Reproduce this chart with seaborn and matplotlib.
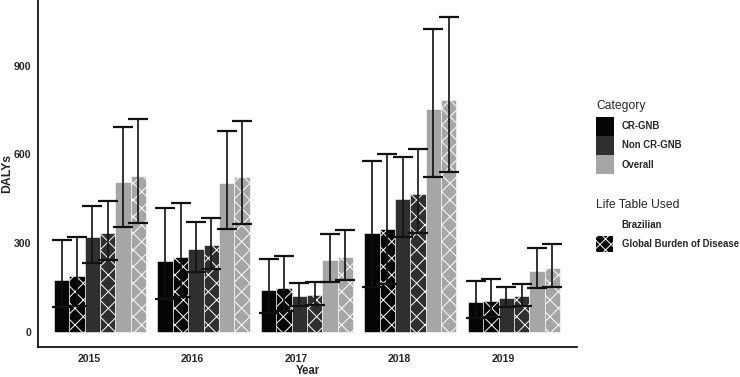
import numpy as np
import pandas as pd
import matplotlib
matplotlib.use("Agg")
import matplotlib.pyplot as plt
import seaborn as sns
from matplotlib.patches import Patch, Rectangle
from matplotlib.legend_handler import HandlerPatch

sns.set_style("white")
plt.rcParams['font.family'] = ['Liberation Sans', 'DejaVu Sans']
plt.rcParams['hatch.color'] = 'white'
plt.rcParams['hatch.linewidth'] = 0.7

years = ['2015', '2016', '2017', '2018', '2019']
categories = ['CR-GNB', 'Non CR-GNB', 'Overall']
tables = ['Brazilian', 'Global Burden of Disease']

# mean DALYs
cr_braz = [175, 240, 141, 333, 99]
cr_gbd = [188, 252, 148, 346, 104]
non_braz = [321, 280, 122, 448, 115]
non_gbd = [335, 293, 124, 465, 121]
ovr_braz = [507, 502, 242, 752, 206]
ovr_gbd = [528, 522, 252, 782, 214]

# lower bounds
cr_braz_lo = [82, 110, 64, 152, 45]
cr_gbd_lo = [88, 117, 70, 160, 50]
non_braz_lo = [231, 201, 87, 319, 83]
non_gbd_lo = [242, 212, 90, 333, 87]
ovr_braz_lo = [353, 347, 168, 522, 147]
ovr_gbd_lo = [367, 364, 174, 541, 150]

# upper bounds
cr_braz_hi = [310, 417, 245, 577, 171]
cr_gbd_hi = [321, 436, 256, 602, 177]
non_braz_hi = [426, 372, 164, 592, 152]
non_gbd_hi = [443, 386, 169, 617, 160]
ovr_braz_hi = [692, 680, 330, 1025, 284]
ovr_gbd_hi = [720, 713, 345, 1066, 296]

series = [
    ('CR-GNB', 'Brazilian', cr_braz, cr_braz_lo, cr_braz_hi),
    ('CR-GNB', 'Global Burden of Disease', cr_gbd, cr_gbd_lo, cr_gbd_hi),
    ('Non CR-GNB', 'Brazilian', non_braz, non_braz_lo, non_braz_hi),
    ('Non CR-GNB', 'Global Burden of Disease', non_gbd, non_gbd_lo, non_gbd_hi),
    ('Overall', 'Brazilian', ovr_braz, ovr_braz_lo, ovr_braz_hi),
    ('Overall', 'Global Burden of Disease', ovr_gbd, ovr_gbd_lo, ovr_gbd_hi),
]

cat_colors = {'CR-GNB': '#050505', 'Non CR-GNB': '#2f2f2f', 'Overall': '#a6a6a6'}

rows = []
for cat, tab, vals, lo, hi in series:
    for y, v, l, h in zip(years, vals, lo, hi):
        rows.append(dict(Year=y, Category=cat, Table=tab, Group=f"{cat}|{tab}",
                         DALYs=v, lo=l, hi=h))
df = pd.DataFrame(rows)
group_order = [f"{c}|{t}" for c, t, *_ in series]
palette = {g: cat_colors[g.split('|')[0]] for g in group_order}

fig = plt.figure(figsize=(7.4, 3.77), dpi=100)
ax = fig.add_axes([38/740, 30/377, 539/740, 347/377])

sns.barplot(data=df, x='Year', y='DALYs', hue='Group', hue_order=group_order,
            order=years, palette=palette, width=0.89, errorbar=None,
            saturation=1, legend=False, ax=ax, zorder=2)

for cont, (cat, tab, vals, lo, hi) in zip(ax.containers, series):
    xs = []
    for bar in cont:
        bar.set_edgecolor('white')
        bar.set_linewidth(0.4)
        if tab == 'Global Burden of Disease':
            bar.set_hatch('xx')
        xs.append(bar.get_x() + bar.get_width() / 2)
    v = np.array(vals); l = np.array(lo); h = np.array(hi)
    ax.errorbar(xs, v, yerr=[v - l, h - v], fmt='none', ecolor='#111111',
                elinewidth=1.2, capsize=7.2, capthick=1.6, zorder=4)

ax.set_xticks(np.arange(len(years)) - 0.107, labels=years)
ax.set_xlim(-0.60, 4.61)
ax.set_ylim(-52, 1122)
ax.set_yticks([0, 300, 600, 900])
ax.tick_params(axis='both', length=0, labelsize=7.6, pad=5)
for t in ax.get_xticklabels() + ax.get_yticklabels():
    t.set_fontweight('bold')
ax.set_xlabel('Year', fontsize=8.3, fontweight='bold', labelpad=1)
ax.set_ylabel('DALYs', fontsize=8.8, fontweight='bold')
ax.yaxis.set_label_coords(-0.047, 0.5)
for s in ['top', 'right']:
    ax.spines[s].set_visible(False)
for s in ['left', 'bottom']:
    ax.spines[s].set_color('black')
    ax.spines[s].set_linewidth(1.2)


def small_rect(legend, orig_handle, xdescent, ydescent, width, height, fontsize):
    return Rectangle((-xdescent, -ydescent + 0.08 * height), width, 0.84 * height)


cat_handles = [Patch(facecolor=cat_colors[c], edgecolor='none') for c in categories]
leg1 = fig.legend(cat_handles, categories, title='Category', loc='upper left',
                  bbox_to_anchor=(596/740, 1 - 99.5/377), frameon=False,
                  fontsize=6.9, title_fontsize=8.7, handlelength=1.9,
                  handleheight=2.68, labelspacing=0.0, handletextpad=0.8,
                  borderpad=0, borderaxespad=0, alignment='left')
tab_handles = [Patch(facecolor='white', edgecolor='none'),
               Patch(facecolor='#050505', edgecolor='white', linewidth=0, hatch='xxx')]
leg2 = fig.legend(tab_handles, tables, title='Life Table Used', loc='upper left',
                  bbox_to_anchor=(596/740, 1 - 198.5/377), frameon=False,
                  fontsize=6.9, title_fontsize=8.7, handlelength=1.8,
                  handleheight=2.6, labelspacing=0.0, handletextpad=0.9,
                  borderpad=0, borderaxespad=0, alignment='left',
                  handler_map={Patch: HandlerPatch(patch_func=small_rect)})
for leg in (leg1, leg2):
    leg._legend_box.sep = 4.0
    for t in leg.get_texts():
        t.set_fontweight('bold')

fig.savefig('out.png', dpi=100)
